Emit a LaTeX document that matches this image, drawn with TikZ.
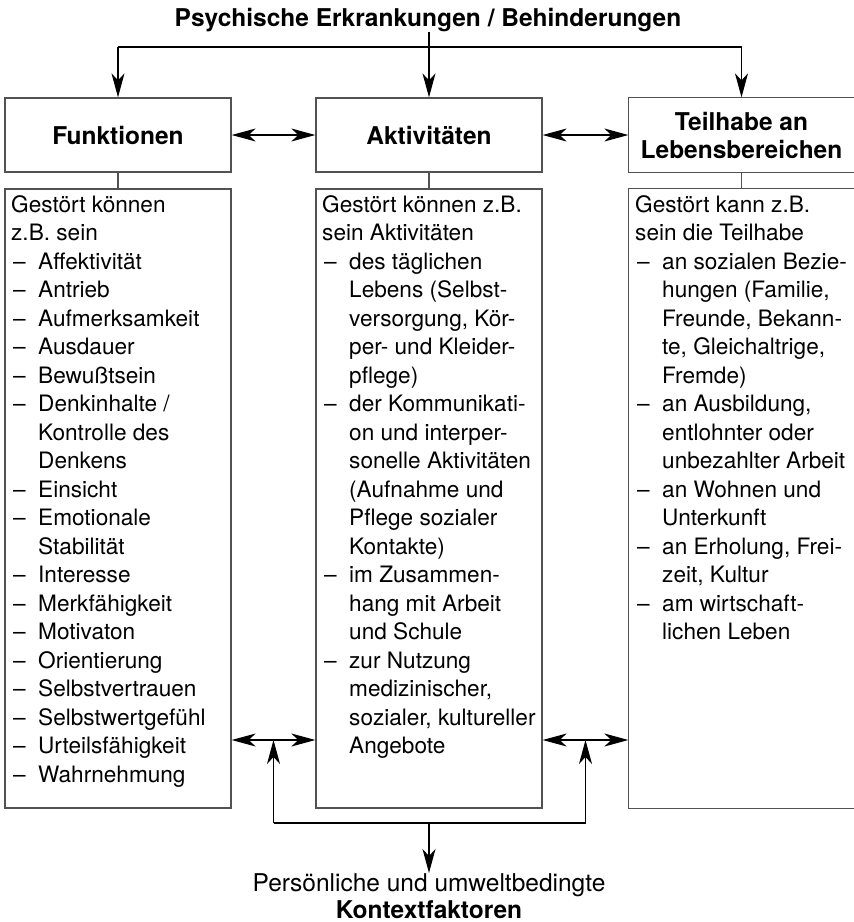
\documentclass[tikz,border=0pt]{standalone}
\usepackage{fontspec}
\setmainfont{TeX Gyre Heros}
\usetikzlibrary{arrows.meta}
\newcommand{\Li}{\makebox[27pt][l]{\hspace{2pt}–}}
\newcommand{\Lc}{\hspace*{27pt}}
\begin{document}
\begin{tikzpicture}[x=1pt,y=-1pt,
  >={Stealth[length=24pt,width=13pt,inset=7pt]},
  boxline/.style={draw=black!68, line width=1.3pt},
  headbox/.style={boxline, minimum width=226pt, minimum height=74pt, inner sep=0pt,
    font=\fontsize{24.5}{28}\selectfont\bfseries, align=center},
  listbox/.style={boxline, minimum width=226pt, minimum height=619pt, inner sep=0pt},
  listtext/.style={anchor=north west, inner sep=0pt, align=left,
    font=\fontsize{22.6}{28.5}\selectfont},
  conn/.style={draw=black, line width=1.25pt},
  arr/.style={conn, ->},
  darr/.style={conn, <->},
]
\useasboundingbox (0,0) rectangle (854,922);

% title
\node[inner sep=0pt, anchor=base, font=\fontsize{24.5}{28}\selectfont\bfseries] (title) at (428,26)
  {Psychische Erkrankungen / Behinderungen};

% header boxes
\node[headbox] (hf) at (118,135) {Funktionen};
\node[headbox] (ha) at (429,135) {Aktivitäten};
\node[headbox, draw=none, minimum width=225pt] (ht) at (741.5,135) {Teilhabe an\\Lebensbereichen};
\draw[boxline] (ht.north east) -- (ht.north west) -- (ht.south west) -- (ht.south east);

% list boxes
\node[listbox] (lf) at (118,498.5) {};
\node[listbox] (la) at (429,498.5) {};
\node[listbox, draw=none, minimum width=225pt] (lt) at (741.5,498.5) {};
\draw[boxline] (lt.north east) -- (lt.north west) -- (lt.south west) -- (lt.south east);

% header to list connectors
\draw[boxline] (hf.south) -- (lf.north);
\draw[boxline] (ha.south) -- (la.north);
\draw[boxline] (ht.south) -- (lt.north);

% list texts
\node[listtext] (tf) at (11,192) {\strut Gestört können\\
z.B. sein\\
\Li Affektivität\\
\Li Antrieb\\
\Li Aufmerksamkeit\\
\Li Ausdauer\\
\Li Bewußtsein\\
\Li Denkinhalte /\\
\Lc Kontrolle des\\
\Lc Denkens\\
\Li Einsicht\\
\Li Emotionale\\
\Lc Stabilität\\
\Li Interesse\\
\Li Merkfähigkeit\\
\Li Motivaton\\
\Li Orientierung\\
\Li Selbstvertrauen\\
\Li Selbstwertgefühl\\
\Li Urteilsfähigkeit\\
\Li Wahrnehmung};

\node[listtext] (ta) at (322,192) {\strut Gestört können z.B.\\
sein Aktivitäten\\
\Li des täglichen\\
\Lc Lebens (Selbst-\\
\Lc versorgung, Kör-\\
\Lc per- und Kleider-\\
\Lc pflege)\\
\Li der Kommunikati-\\
\Lc on und interper-\\
\Lc sonelle Aktivitäten\\
\Lc (Aufnahme und\\
\Lc Pflege sozialer\\
\Lc Kontakte)\\
\Li im Zusammen-\\
\Lc hang mit Arbeit\\
\Lc und Schule\\
\Li zur Nutzung\\
\Lc medizinischer,\\
\Lc sozialer, kultureller\\
\Lc Angebote};

\node[listtext] (tt) at (635,192) {\strut Gestört kann z.B.\\
sein die Teilhabe\\
\Li an sozialen Bezie-\\
\Lc hungen (Familie,\\
\Lc Freunde, Bekann-\\
\Lc te, Gleichaltrige,\\
\Lc Fremde)\\
\Li an Ausbildung,\\
\Lc entlohnter oder\\
\Lc unbezahlter Arbeit\\
\Li an Wohnen und\\
\Lc Unterkunft\\
\Li an Erholung, Frei-\\
\Lc zeit, Kultur\\
\Li am wirtschaft-\\
\Lc lichen Leben};

% top connectors
\coordinate (tl) at (118,47);
\coordinate (tr) at (741.5,47);
\draw[conn] (tl) -- (tr);
\draw[arr] (tl) -- (hf.north);
\draw[arr] (tr) -- (ht.north);
\draw[arr] (title.south -| ha.north) -- (ha.north);

% header double arrows
\draw[darr] (hf.east) -- (ha.west);
\draw[darr] (ha.east) -- (ht.west);

% bottom connectors
\coordinate (bl) at (273.5,740);
\coordinate (br) at (585.5,740);
\coordinate (bl2) at (273.5,823);
\coordinate (br2) at (585.5,823);
\coordinate (bm) at (429,823);
\draw[darr] (lf.east |- bl) -- (la.west |- bl);
\draw[darr] (la.east |- br) -- (lt.west |- br);
\draw[conn] (bl2) -- (br2);
\draw[arr] (bl2) -- (bl);
\draw[arr] (br2) -- (br);

\node[inner sep=0pt, anchor=north, align=center, font=\fontsize{24.5}{27}\selectfont] (ctx) at (429,873)
  {Persönliche und umweltbedingte\\\textbf{Kontextfaktoren}};
\draw[arr] (bm) -- (ctx.north);
\end{tikzpicture}
\end{document}
